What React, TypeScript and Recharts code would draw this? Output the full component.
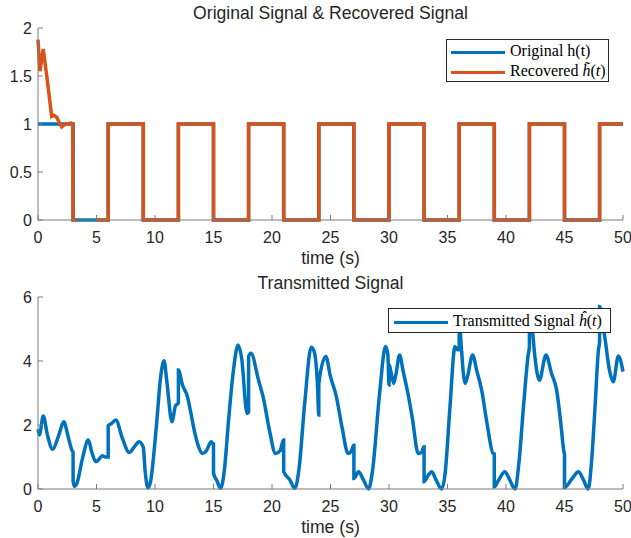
import { Line, LineChart, XAxis, YAxis } from 'recharts';

const W = 631;
const H = 269;

// top plot: original square wave h(t)
const origT = [0, 3, 3, 6, 6, 9, 9, 12, 12, 15, 15, 18, 18, 21, 21, 24, 24, 27, 27, 30, 30, 33, 33, 36, 36, 39, 39, 42, 42, 45, 45, 48, 48, 50];
const origV = [1, 1, 0, 0, 1, 1, 0, 0, 1, 1, 0, 0, 1, 1, 0, 0, 1, 1, 0, 0, 1, 1, 0, 0, 1, 1, 0, 0, 1, 1, 0, 0, 1, 1];

// top plot: recovered signal (gap between 3.3 s and 5 s)
const recT = [0, 0.17, 0.45, 0.75, 1.17, 1.35, 1.6, 1.8, 2.03, 2.25, 2.45, 2.85, 2.97, 3, 3.3, 4, 5, 6, 6, 9, 9, 12, 12, 15, 15, 18, 18, 21, 21, 24, 24, 27, 27, 30, 30, 33, 33, 36, 36, 39, 39, 42, 42, 45, 45, 48, 48, 50];
const recV = [1.88, 1.55, 1.78, 1.5, 1.08, 1.09, 1.07, 1.02, 0.97, 0.99, 1.0, 1.01, 1.0, 0, 0, null, 0, 0, 1, 1, 0, 0, 1, 1, 0, 0, 1, 1, 0, 0, 1, 1, 0, 0, 1, 1, 0, 0, 1, 1, 0, 0, 1, 1, 0, 0, 1, 1];

// bottom plot: transmitted signal
const sigT = [
  0, 0.12, 0.45, 0.8, 1.25, 1.75, 2.2, 2.6, 2.95, 3, 3, 3.12, 3.3, 3.8, 4.3, 4.6, 4.95, 5.2, 5.5, 5.75, 5.98, 6,
  6, 6.3, 6.65, 7.2, 7.8, 8.2, 8.65, 9, 9.15, 9.4, 9.6, 10.14, 10.45, 10.77, 11, 11.45, 11.75, 11.98, 12,
  12, 12.35, 12.77, 13, 13.35, 13.7, 14.05, 14.4, 14.8, 14.98, 15, 15, 15.3, 15.6, 15.9, 16.3, 16.7, 17.1, 17.4, 17.87, 18,
  18, 18.2, 18.85, 19.3, 19.8, 20.3, 20.7, 20.98, 21, 21, 21.5, 21.95, 22.3, 22.8, 23.35, 23.6, 23.88, 24,
  24, 24.6, 25, 25.5, 26, 26.5, 26.8, 26.98, 27, 27, 27.4, 27.8, 28.25, 28.6, 29.2, 29.7, 29.9, 30,
  30, 30.2, 30.4, 30.6, 30.9, 31.2, 31.67, 32, 32.5, 32.8, 32.98, 33, 33, 33.3, 33.65, 34, 34.5, 34.8, 35.2, 35.64, 35.85, 36,
  36, 36.15, 36.5, 36.7, 37.15, 37.5, 37.92, 38.4, 38.9, 39, 39, 39.4, 39.9, 40.3, 40.77, 41.1, 41.5, 41.9, 42,
  42, 42.2, 42.45, 42.85, 43.42, 43.9, 44.33, 44.7, 44.96, 45, 45, 45.6, 46.2, 46.6, 47.03, 47.3, 47.6, 47.9, 48,
  48, 48.25, 48.5, 48.8, 49.17, 49.6, 50,
];
const sigV = [
  1.87, 1.69, 2.28, 1.7, 1.24, 1.65, 2.1, 1.6, 1.17, 1.15, 0.25, 0.08, 0.15, 0.95, 1.53, 1.15, 0.85, 0.92, 1.04, 1.0, 1.0, 1.0,
  1.98, 2.05, 2.16, 1.6, 1.14, 1.3, 1.48, 1.3, 0.6, 0.03, 0.2, 2.06, 3.4, 4.01, 3.4, 2.1, 2.6, 2.68, 2.7,
  3.72, 3.25, 2.89, 2.5, 1.84, 1.35, 1.11, 1.2, 1.48, 1.4, 1.4, 0.5, 0.25, 0.02, 0.5, 2.2, 3.7, 4.5, 4.1, 2.36, 2.4,
  4.14, 4.24, 3.4, 2.78, 1.8, 1.11, 1.2, 1.53, 1.53, 0.54, 0.3, 0.02, 0.6, 2.7, 4.43, 4.3, 3.3, 2.31,
  3.3, 4.14, 3.51, 2.89, 1.9, 1.11, 1.2, 1.37, 1.37, 0.33, 0.54, 0.3, 0.0, 0.6, 3.0, 4.45, 4.2, 3.25,
  3.9, 3.6, 3.3, 3.6, 4.19, 3.7, 2.89, 2.2, 1.11, 1.15, 1.32, 1.32, 0.23, 0.4, 0.54, 0.3, 0.0, 0.5, 2.5, 4.45, 4.35, 4.35,
  5.4, 4.6, 3.3, 3.5, 4.19, 3.7, 3.09, 2.0, 1.11, 1.1, 0.07, 0.3, 0.54, 0.3, 0.0, 0.8, 2.6, 4.2, 4.45,
  5.6, 5.2, 4.2, 3.4, 4.19, 3.6, 3.09, 2.0, 1.15, 1.1, 0.05, 0.3, 0.54, 0.3, 0.0, 0.8, 2.5, 4.34, 4.6,
  5.7, 5.2, 4.6, 3.8, 3.35, 4.16, 3.67,
];

const xTicks = [0, 5, 10, 15, 20, 25, 30, 35, 40, 45, 50];
const topYTicks = [0, 0.5, 1, 1.5, 2];
const bottomYTicks = [0, 2, 4, 6];

const toRows = (ts: number[], vs: (number | null)[]) => ts.map((t, i) => ({ t, v: vs[i] }));

const BLUE = '#0072BD';
const ORANGE = '#D95319';
const axisColor = '#7a7a7a';
const textColor = '#262626';
const sans = '"Liberation Sans", Arial, Helvetica, sans-serif';
const serif = '"Liberation Serif", "Times New Roman", serif';

const tickStyle = { fill: textColor, fontSize: 16, fontFamily: sans };

// box with inward ticks on all four sides, like a MATLAB axes
const frame = (yMax: number, yTicks: number[]) => [
  <XAxis
    key="xb"
    type="number"
    dataKey="t"
    domain={[0, 50]}
    ticks={xTicks}
    interval={0}
    height={20}
    tickSize={-5}
    tickMargin={17}
    stroke={axisColor}
    tick={tickStyle}
  />,
  <XAxis
    key="xt"
    xAxisId="top"
    orientation="top"
    type="number"
    domain={[0, 50]}
    ticks={xTicks}
    interval={0}
    height={0}
    tickSize={-5}
    tick={false}
    stroke={axisColor}
  />,
  <YAxis
    key="yl"
    type="number"
    domain={[0, yMax]}
    ticks={yTicks}
    interval={0}
    width={38}
    tickSize={-5}
    tickMargin={11}
    stroke={axisColor}
    tick={tickStyle}
  />,
  <YAxis
    key="yr"
    yAxisId="right"
    orientation="right"
    type="number"
    domain={[0, yMax]}
    ticks={yTicks}
    interval={0}
    width={0}
    tickSize={-5}
    tick={false}
    stroke={axisColor}
  />,
];

const chartMargin = { top: 28, right: 8, bottom: 29, left: 0 };

const centered = (top: number, text: string, size: number) => (
  <div
    style={{
      position: 'absolute',
      left: 38,
      width: 585,
      top,
      textAlign: 'center',
      fontFamily: sans,
      fontSize: size,
      color: textColor,
      lineHeight: 1,
      whiteSpace: 'nowrap',
    }}
  >
    {text}
  </div>
);

const swatch = (color: string) => (
  <span style={{ display: 'inline-block', width: 54, height: 3.5, background: color, marginRight: 5, verticalAlign: 'middle' }} />
);

export default function App() {
  return (
    <div style={{ position: 'absolute', left: 0, top: 0, width: W, height: 538, background: '#fff' }}>
      <div style={{ position: 'absolute', left: 0, top: 0 }}>
        <LineChart width={W} height={H} margin={chartMargin}>
          {frame(2, topYTicks)}
          <Line
            data={toRows(origT, origV)}
            dataKey="v"
            type="linear"
            stroke={BLUE}
            strokeWidth={3.5}
            dot={false}
            isAnimationActive={false}
          />
          <Line
            data={toRows(recT, recV)}
            dataKey="v"
            type="linear"
            stroke={ORANGE}
            strokeWidth={3.5}
            dot={false}
            isAnimationActive={false}
          />
        </LineChart>
      </div>
      <div style={{ position: 'absolute', left: 0, top: H }}>
        <LineChart width={W} height={H} margin={chartMargin}>
          {frame(6, bottomYTicks)}
          <Line
            data={toRows(sigT, sigV)}
            dataKey="v"
            type="monotone"
            stroke={BLUE}
            strokeWidth={3.5}
            dot={false}
            isAnimationActive={false}
          />
        </LineChart>
      </div>

      {centered(5, 'Original Signal & Recovered Signal', 17.6)}
      {centered(250, 'time (s)', 17.6)}
      {centered(275, 'Transmitted Signal', 17.6)}
      {centered(519, 'time (s)', 17.6)}

      <div
        style={{
          position: 'absolute',
          left: 446,
          top: 39,
          width: 163,
          height: 43,
          border: '1px solid #262626',
          background: '#fff',
          fontFamily: serif,
          fontSize: 16,
          color: '#000',
          lineHeight: '20px',
          whiteSpace: 'nowrap',
          paddingLeft: 4,
          paddingTop: 1,
          boxSizing: 'border-box',
        }}
      >
        <div>
          {swatch(BLUE)}Original h(t)
        </div>
        <div>
          {swatch(ORANGE)}Recovered <i>h&#771;</i>(<i>t</i>)
        </div>
      </div>

      <div
        style={{
          position: 'absolute',
          left: 388,
          top: 308,
          width: 223,
          height: 25,
          border: '1px solid #262626',
          background: '#fff',
          fontFamily: serif,
          fontSize: 16,
          color: '#000',
          lineHeight: '23px',
          whiteSpace: 'nowrap',
          paddingLeft: 5,
          boxSizing: 'border-box',
        }}
      >
        {swatch(BLUE)}Transmitted Signal <i>&#293;</i>(<i>t</i>)
      </div>
    </div>
  );
}
